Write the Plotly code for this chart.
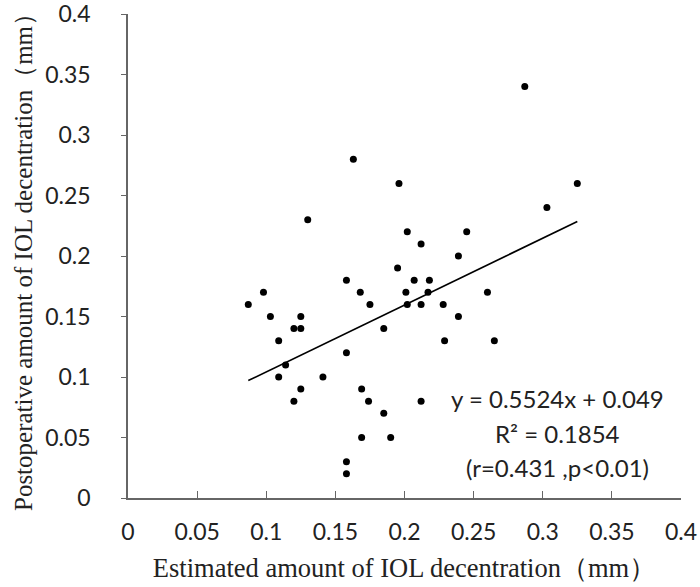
import plotly.graph_objects as go

# Estimated amount of IOL decentration (mm)
x_vals = [0.087, 0.098, 0.103, 0.109, 0.109, 0.114, 0.120, 0.120, 0.125, 0.125,
          0.125, 0.130, 0.141, 0.158, 0.158, 0.158, 0.158, 0.163, 0.168, 0.169,
          0.169, 0.174, 0.175, 0.185, 0.185, 0.190, 0.195, 0.196, 0.201, 0.202,
          0.202, 0.207, 0.212, 0.212, 0.212, 0.217, 0.218, 0.228, 0.229, 0.239,
          0.239, 0.245, 0.260, 0.265, 0.287, 0.303, 0.325]
# Postoperative amount of IOL decentration (mm)
y_vals = [0.16, 0.17, 0.15, 0.13, 0.10, 0.11, 0.14, 0.08, 0.15, 0.14,
          0.09, 0.23, 0.10, 0.18, 0.12, 0.03, 0.02, 0.28, 0.17, 0.09,
          0.05, 0.08, 0.16, 0.14, 0.07, 0.05, 0.19, 0.26, 0.17, 0.16,
          0.22, 0.18, 0.21, 0.16, 0.08, 0.17, 0.18, 0.16, 0.13, 0.20,
          0.15, 0.22, 0.17, 0.13, 0.34, 0.24, 0.26]

slope = 0.5524
intercept = 0.049
annotation_lines = ["y = 0.5524x + 0.049", "R² = 0.1854", "(r=0.431 ,p<0.01)"]

tick_vals = [0, 0.05, 0.1, 0.15, 0.2, 0.25, 0.3, 0.35, 0.4]
tick_text = ["0", "0.05", "0.1", "0.15", "0.2", "0.25", "0.3", "0.35", "0.4"]

x_title = "Estimated amount of IOL decentration（mm）"
y_title = "Postoperative amount of IOL decentration（mm）"

line_x = [min(x_vals), max(x_vals)]
line_y = [slope * v + intercept for v in line_x]

fig = go.Figure()
fig.add_trace(go.Scatter(x=x_vals, y=y_vals, mode="markers",
                         marker=dict(color="black", size=7), showlegend=False))
fig.add_trace(go.Scatter(x=line_x, y=line_y, mode="lines",
                         line=dict(color="black", width=1.6), showlegend=False))

tick_font = dict(family="Lato, Carlito, sans-serif", size=23, color="#222")
xtitle_font = dict(family="Liberation Serif, Times New Roman, serif", size=26.5, color="#222")
ytitle_font = dict(family="Liberation Serif, Times New Roman, serif", size=25, color="#222")

ann_font = dict(family="Lato, Carlito, sans-serif", size=24, color="#222")
ann_y = [0.206, 0.134, 0.0635]
annotations = [dict(x=0.776, y=yy, xref="paper", yref="paper", xanchor="center",
                    yanchor="middle", text=t, showarrow=False, font=ann_font)
               for t, yy in zip(annotation_lines, ann_y)]

fig.update_layout(
    width=700, height=587,
    margin=dict(l=128, r=19, t=14, b=89),
    plot_bgcolor="white", paper_bgcolor="white",
    xaxis=dict(range=[0, 0.4], tickvals=tick_vals, ticktext=tick_text, automargin=False,
               showgrid=False, zeroline=False, showline=True, linecolor="#666",
               linewidth=1.5, ticks="inside", ticklen=7, tickcolor="#666",
               ticklabelstandoff=13, ticklabeloverflow="allow",
               tickfont=tick_font, title=dict(text=x_title, font=xtitle_font, standoff=14)),
    yaxis=dict(range=[0, 0.4], tickvals=tick_vals, ticktext=tick_text, automargin=False,
               showgrid=False, zeroline=False, showline=True, linecolor="#666",
               linewidth=1.5, ticks="outside", ticklen=5, tickcolor="#666",
               ticklabelstandoff=26, ticklabeloverflow="allow",
               tickfont=tick_font, title=dict(text=y_title, font=ytitle_font, standoff=5)),
    annotations=annotations,
)

fig.write_html("out.html")
